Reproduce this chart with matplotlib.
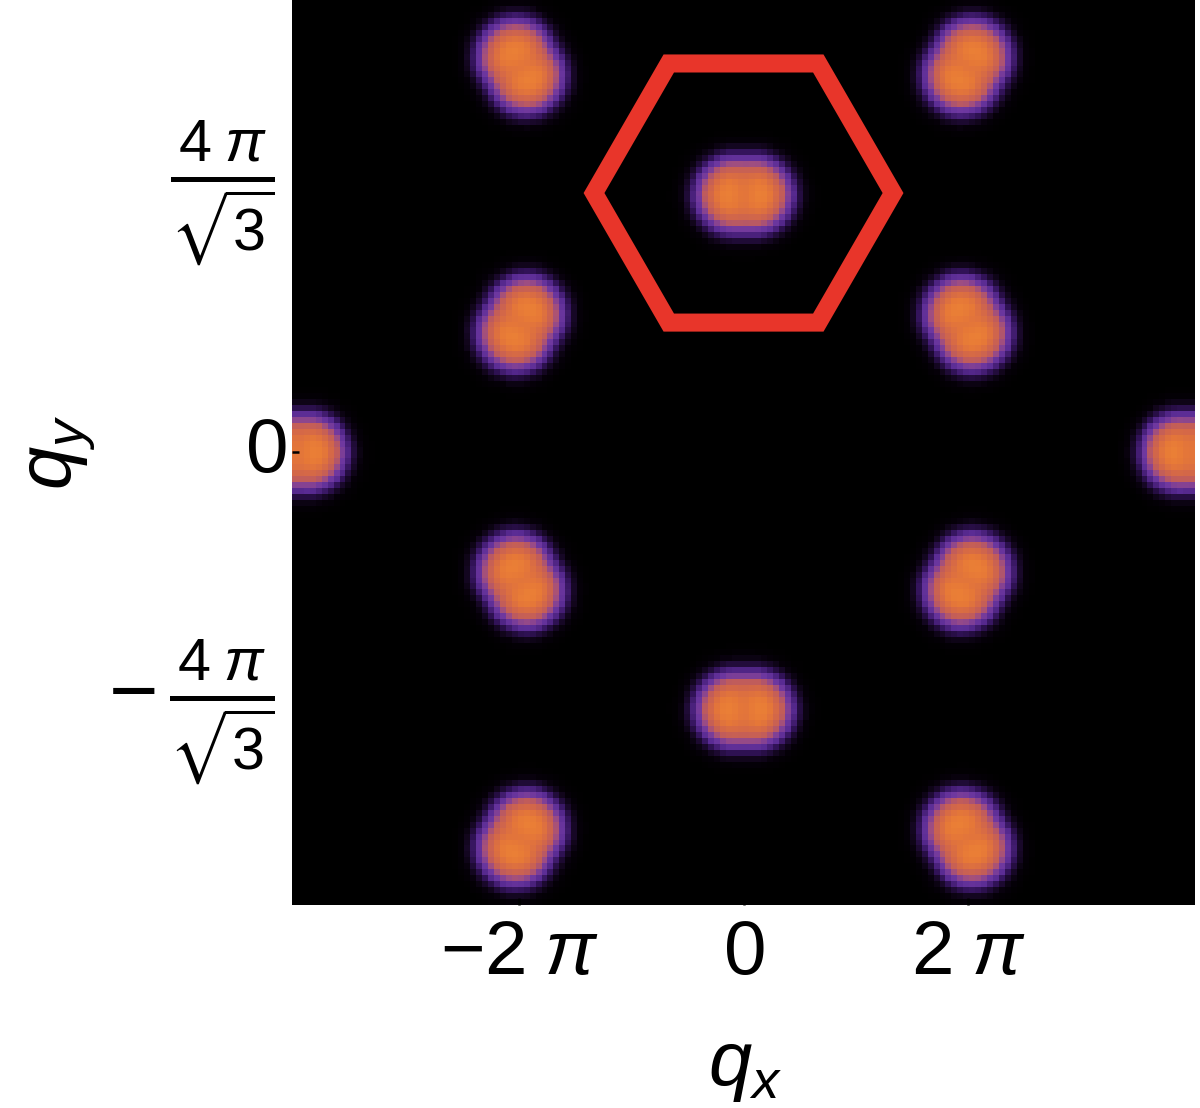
import numpy as np
import matplotlib
matplotlib.use('Agg')
import matplotlib.pyplot as plt
from matplotlib.colors import LinearSegmentedColormap
from matplotlib.patches import Polygon
from matplotlib.transforms import ScaledTranslation

plt.rcParams['mathtext.fontset'] = 'custom'
plt.rcParams['mathtext.rm'] = 'Liberation Sans'
plt.rcParams['mathtext.it'] = 'Liberation Sans:italic'
plt.rcParams['mathtext.fallback'] = 'stixsans'
plt.rcParams['font.family'] = ['Liberation Sans', 'DejaVu Sans']

PI = np.pi
S3 = np.sqrt(3)

# ---- data: Bragg-peak positions, orientation of their long axis, heights ----
peak_qx = [0, 0, -2*PI, -2*PI, 2*PI, 2*PI, -4*PI, 4*PI, -2*PI, -2*PI, 2*PI, 2*PI]
peak_qy = [4*PI/S3, -4*PI/S3, 2*PI/S3, -2*PI/S3, 2*PI/S3, -2*PI/S3, 0, 0,
           2*PI*S3, -2*PI*S3, 2*PI*S3, -2*PI*S3]
peak_angle_deg = [0, 0, 60, 120, 120, 60, 0, 0, 120, 60, 60, 120]
peak_height = [1.0] * 12

xtick_vals = [-2*PI, 0, 2*PI]
xtick_labels = [r'$-2\;\pi$', r'$0$', r'$2\;\pi$']
ytick_vals = [-4*PI/S3, 0, 4*PI/S3]
ytick_labels = [r'$-\,\frac{4\;\pi}{\sqrt{3}}$', r'$0$', r'$\frac{4\;\pi}{\sqrt{3}}$']

bz_center = (0.0, 4*PI/S3)
bz_radius = 4*PI/3

# ---- intensity field ----
XLIM = (-12.65, 12.62)
YLIM = (-12.68, 12.66)
n = 152
xs = np.linspace(XLIM[0], XLIM[1], n)
ys = np.linspace(YLIM[0], YLIM[1], n)
X, Y = np.meshgrid(xs, ys)
Z = np.zeros_like(X)
HALF_LEN, SIG = 0.30, 0.77
for qx, qy, ang, h in zip(peak_qx, peak_qy, peak_angle_deg, peak_height):
    t = np.deg2rad(ang)
    dx, dy = X - qx, Y - qy
    u = dx*np.cos(t) + dy*np.sin(t)
    v = -dx*np.sin(t) + dy*np.cos(t)
    uu = np.clip(np.abs(u) - HALF_LEN, 0, None)
    rho2 = (uu/SIG)**2 + (v/SIG)**2
    env = np.exp(-rho2)
    mod = 1 - 0.32*np.exp(-(u/0.40)**2)*env**2
    Z += h*env*mod

cmap = LinearSegmentedColormap.from_list('sunset', [
    (0.00, '#000000'), (0.02, '#060109'), (0.045, '#180828'), (0.08, '#33135a'),
    (0.13, '#5a2c94'), (0.19, '#6e38a0'), (0.26, '#9a4c86'), (0.34, '#c05c5c'),
    (0.50, '#d46848'), (0.72, '#e67838'), (1.00, '#ee8535')])

fig = plt.figure(figsize=(12, 11.08), dpi=100)
ax = fig.add_axes([292/1200, 1 - 905/1108, 902/1200, 905/1108])
ax.imshow(Z, extent=(XLIM[0], XLIM[1], YLIM[0], YLIM[1]), origin='lower',
          cmap=cmap, vmin=0, vmax=1.0, interpolation='nearest', aspect='auto')

angles = np.deg2rad(np.arange(0, 360, 60))
hex_pts = np.column_stack([bz_center[0] + bz_radius*np.cos(angles),
                           bz_center[1] + bz_radius*np.sin(angles)])
ax.add_patch(Polygon(hex_pts, closed=True, fill=False, edgecolor='#e8352a',
                     linewidth=13, joinstyle='miter'))

ax.set_xlim(XLIM)
ax.set_ylim(YLIM)
ax.set_xticks(xtick_vals, xtick_labels)
ax.set_yticks(ytick_vals, ytick_labels)
ax.tick_params(direction='in', length=5, width=1.8, color='black', labelsize=55)
ax.tick_params(axis='x', pad=10)
ax.tick_params(axis='y', pad=4)
shift = ScaledTranslation(-12/100, 0, fig.dpi_scale_trans)
for lab in ax.get_yticklabels():
    lab.set_va('center')
    if 'frac' in lab.get_text():
        lab.set_fontsize(61)
        lab.set_transform(lab.get_transform() + shift)
for s in ax.spines.values():
    s.set_visible(False)

fig.text(745/1200, 1 - 1068/1108, r'$q_x$', ha='center', va='center', fontsize=56)
fig.text(62/1200, 1 - 452/1108, r'$q_y$', ha='center', va='center', fontsize=56,
         rotation=90)

fig.savefig('out.png', dpi=100, facecolor='white')
